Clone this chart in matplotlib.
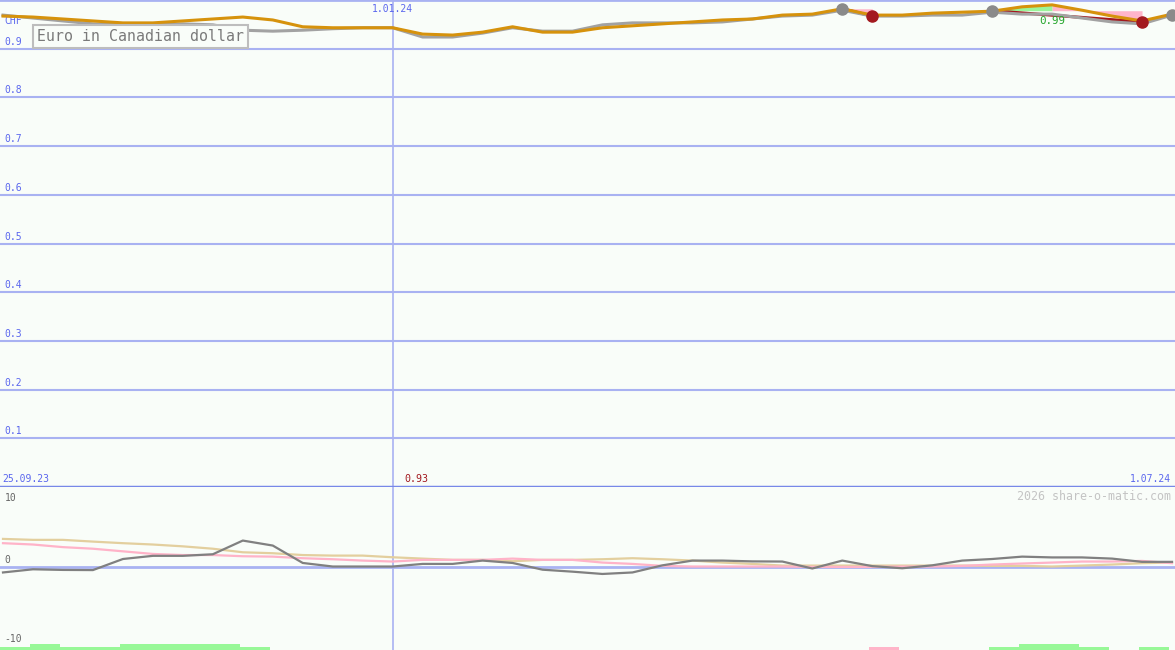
import matplotlib
matplotlib.use("Agg")
import matplotlib.pyplot as plt
import numpy as np
import pandas as pd

# weekly closes, Euro in Canadian dollar
dates = pd.date_range("2023-10-02", periods=40, freq="7D")
price_gray = [0.969, 0.963, 0.957, 0.951, 0.949, 0.949, 0.951, 0.949, 0.938, 0.936,
              0.938, 0.941, 0.943, 0.943, 0.924, 0.924, 0.932, 0.943, 0.936, 0.936,
              0.949, 0.953, 0.953, 0.953, 0.955, 0.961, 0.967, 0.969, 0.979, 0.967,
              0.967, 0.969, 0.969, 0.975, 0.971, 0.971, 0.963, 0.955, 0.951, 0.969]
price_orange = [0.967, 0.965, 0.961, 0.957, 0.953, 0.953, 0.957, 0.961, 0.965, 0.959,
                0.945, 0.943, 0.943, 0.943, 0.930, 0.928, 0.934, 0.945, 0.934, 0.934,
                0.943, 0.947, 0.951, 0.955, 0.959, 0.961, 0.969, 0.971, 0.982, 0.969,
                0.969, 0.973, 0.975, 0.977, 0.986, 0.990, 0.979, 0.967, 0.957, 0.971]

# signals (week index, level)
buy_idx = [28, 33, 39]
buy_val = [0.982, 0.978, 0.970]
sell_idx = [29, 38]
sell_val = [0.967, 0.955]

# lower indicator panel
ind_tan = [3.54, 3.42, 3.42, 3.2, 3.0, 2.83, 2.6, 2.3, 1.85, 1.73,
           1.5, 1.43, 1.43, 1.22, 1.05, 0.89, 0.89, 0.72, 0.89, 0.89,
           0.97, 1.1, 0.97, 0.8, 0.55, 0.38, 0.17, 0.17, 0.17, 0.17,
           0.17, 0.17, 0.17, 0.13, 0.13, 0.05, 0.17, 0.3, 0.47, 0.55]
ind_pink = [3.0, 2.83, 2.5, 2.3, 1.97, 1.64, 1.5, 1.5, 1.35, 1.3,
            1.1, 0.97, 0.8, 0.68, 0.89, 0.89, 0.89, 1.05, 0.89, 0.89,
            0.55, 0.38, 0.13, 0.05, 0.05, 0.05, 0.05, 0.0, 0.0, 0.0,
            0.05, 0.05, 0.13, 0.3, 0.43, 0.55, 0.68, 0.68, 0.76, 0.47]
ind_gray = [-0.7, -0.3, -0.38, -0.4, 1.0, 1.4, 1.4, 1.6, 3.33, 2.7,
            0.5, 0.05, 0.05, 0.05, 0.38, 0.38, 0.8, 0.5, -0.35, -0.6,
            -0.89, -0.7, 0.2, 0.8, 0.8, 0.7, 0.68, -0.2, 0.8, 0.1,
            -0.17, 0.2, 0.8, 1.0, 1.3, 1.2, 1.2, 1.05, 0.64, 0.64]
bar_up = [1, 2, 1, 1, 2, 2, 2, 2, 1, 0, 0, 0, 0, 0, 0, 0, 0, 0, 0, 0,
          0, 0, 0, 0, 0, 0, 0, 0, 0, 0, 0, 0, 0, 1, 2, 2, 1, 0, 1, 0]
bar_down = [0] * 29 + [1] + [0] * 10

price_ticks = [0.1, 0.2, 0.3, 0.4, 0.5, 0.6, 0.7, 0.8, 0.9]
ind_ticks = [10, 0, -10]

BG = "#f9fdf9"
GRID = "#a9b2f2"
BLUE = "#5a66ee"
ORANGE = "#d6920c"
GRAY = "#a2a2a2"
DRED = "#a3191f"

plt.rcParams["font.family"] = "DejaVu Sans Mono"

fig = plt.figure(figsize=(11.75, 6.5), dpi=100, facecolor=BG)
ax = fig.add_axes([0, 163 / 650, 1, 487 / 650], facecolor=BG)
ax2 = fig.add_axes([0, 0, 1, 163 / 650], facecolor=BG)

day = pd.Timedelta(days=1)
x0, x1 = dates[0] - 0.7 * day, dates[-1] + 0.7 * day
jan = pd.Timestamp("2024-01-01")

# ---- price panel
ax.set_xlim(x0, x1)
ax.set_ylim(0, 1.0)
for t in price_ticks:
    ax.axhline(t, color=GRID, lw=1.5, zorder=1)
    ax.text(0.004, t + 0.004, f"{t:.1f}", transform=ax.get_yaxis_transform(),
            color=BLUE, fontsize=7, va="bottom", ha="left")
ax.axhline(1.0, color=GRID, lw=2, zorder=1)
ax.axhline(0.0, color="#7888e8", lw=2.5, zorder=5)
ax.axvline(jan, color=GRID, lw=1.2, zorder=1)

xi = np.array(dates)
orange = np.array(price_orange)

# trade fills
trades = list(zip(buy_idx, sell_idx))
for k, (b, s) in enumerate(trades):
    lvl = buy_val[k]
    peak = b + int(np.argmax(orange[b:s + 1]))
    if peak > b:
        ax.fill_between(xi[b:peak + 1], lvl, orange[b:peak + 1],
                        where=orange[b:peak + 1] >= lvl, interpolate=True,
                        color="#9af59a", lw=0, zorder=2)
    ax.fill_between(xi[peak:s + 1], lvl, orange[peak:s + 1],
                    color="#ffb5c9", lw=0, zorder=2)
    ax.plot([dates[b], dates[s]], [lvl, sell_val[k]], color=DRED, lw=2.2, zorder=3)

ax.plot(dates, price_gray, color=GRAY, lw=2.2, zorder=3)
ax.plot(dates, price_orange, color=ORANGE, lw=2.2, zorder=4)

ax.plot([dates[i] for i in buy_idx], buy_val, "o", color="#8a8a8a", ms=8, zorder=6)
ax.plot([dates[i] for i in sell_idx], sell_val, "o", color=DRED, ms=8, zorder=6)

ax.text(0.004, 1 - 21 / 487, "CHF", transform=ax.transAxes, color=BLUE,
        fontsize=7, va="center", ha="left")
ax.text(37 / 1175, 1 - 36.5 / 487, "Euro in Canadian dollar", transform=ax.transAxes,
        color="#7a7a7a", fontsize=10.7, va="center", ha="left", zorder=7,
        bbox=dict(boxstyle="square,pad=0.25", facecolor=BG, edgecolor="#bdbdbd", lw=1.5))
ax.text(jan, 1 - 9 / 487, "1.01.24", transform=ax.get_xaxis_transform(),
        color=BLUE, fontsize=7, va="center", ha="center")
ax.text(0.002, 8 / 487, "25.09.23", transform=ax.transAxes, color=BLUE,
        fontsize=7, va="center", ha="left")
ax.text(0.997, 8 / 487, "1.07.24", transform=ax.transAxes, color=BLUE,
        fontsize=7, va="center", ha="right")
imin = int(np.argmin(price_gray))
ax.text(dates[imin] - 1.5 * day, 8 / 487, f"{0.93:.2f}", transform=ax.get_xaxis_transform(),
        color=DRED, fontsize=7.2, va="center", ha="center")
imax = int(np.argmax(price_orange))
ax.text(dates[imax], price_orange[imax] - 0.033, f"{0.99:.2f}", color="#22a52a",
        fontsize=7.8, va="center", ha="center", zorder=7)

# ---- indicator panel
ax2.set_xlim(x0, x1)
ax2.set_ylim(-10.5, 10.1)
ax2.axhline(0, color=GRID, lw=2, zorder=1)
ax2.axvline(jan, color=GRID, lw=1.2, zorder=1)
ax2.bar(dates - 0.7 * day, np.array(bar_up) * 0.4, width=7, bottom=-10.5,
        align="edge", color="#98f898", lw=0, zorder=2)
ax2.bar(dates - 0.7 * day, np.array(bar_down) * 0.4, width=7, bottom=-10.5,
        align="edge", color="#ffb5c9", lw=0, zorder=2)
ax2.plot(dates, ind_tan, color="#e3cf9e", lw=1.6, zorder=3)
ax2.plot(dates, ind_pink, color="#ffb3c8", lw=1.6, zorder=3)
ax2.plot(dates, ind_gray, color="#808080", lw=1.6, zorder=4)
for t in ind_ticks:
    if t == max(ind_ticks):
        ax2.text(0.004, t - 0.6, f"{t}", transform=ax2.get_yaxis_transform(),
                 color="#666666", fontsize=7, va="top", ha="left")
    else:
        ax2.text(0.004, t + 0.2, f"{t}", transform=ax2.get_yaxis_transform(),
                 color="#666666", fontsize=7, va="bottom", ha="left")
ax2.text(0.997, 1 - 9 / 163, "2026 share-o-matic.com", transform=ax2.transAxes,
         color="#c4c4c4", fontsize=8.4, va="center", ha="right")

for a in (ax, ax2):
    a.set_xticks([])
    a.set_yticks([])
    for sp in a.spines.values():
        sp.set_visible(False)

fig.savefig("out.png", dpi=100, facecolor=BG)
